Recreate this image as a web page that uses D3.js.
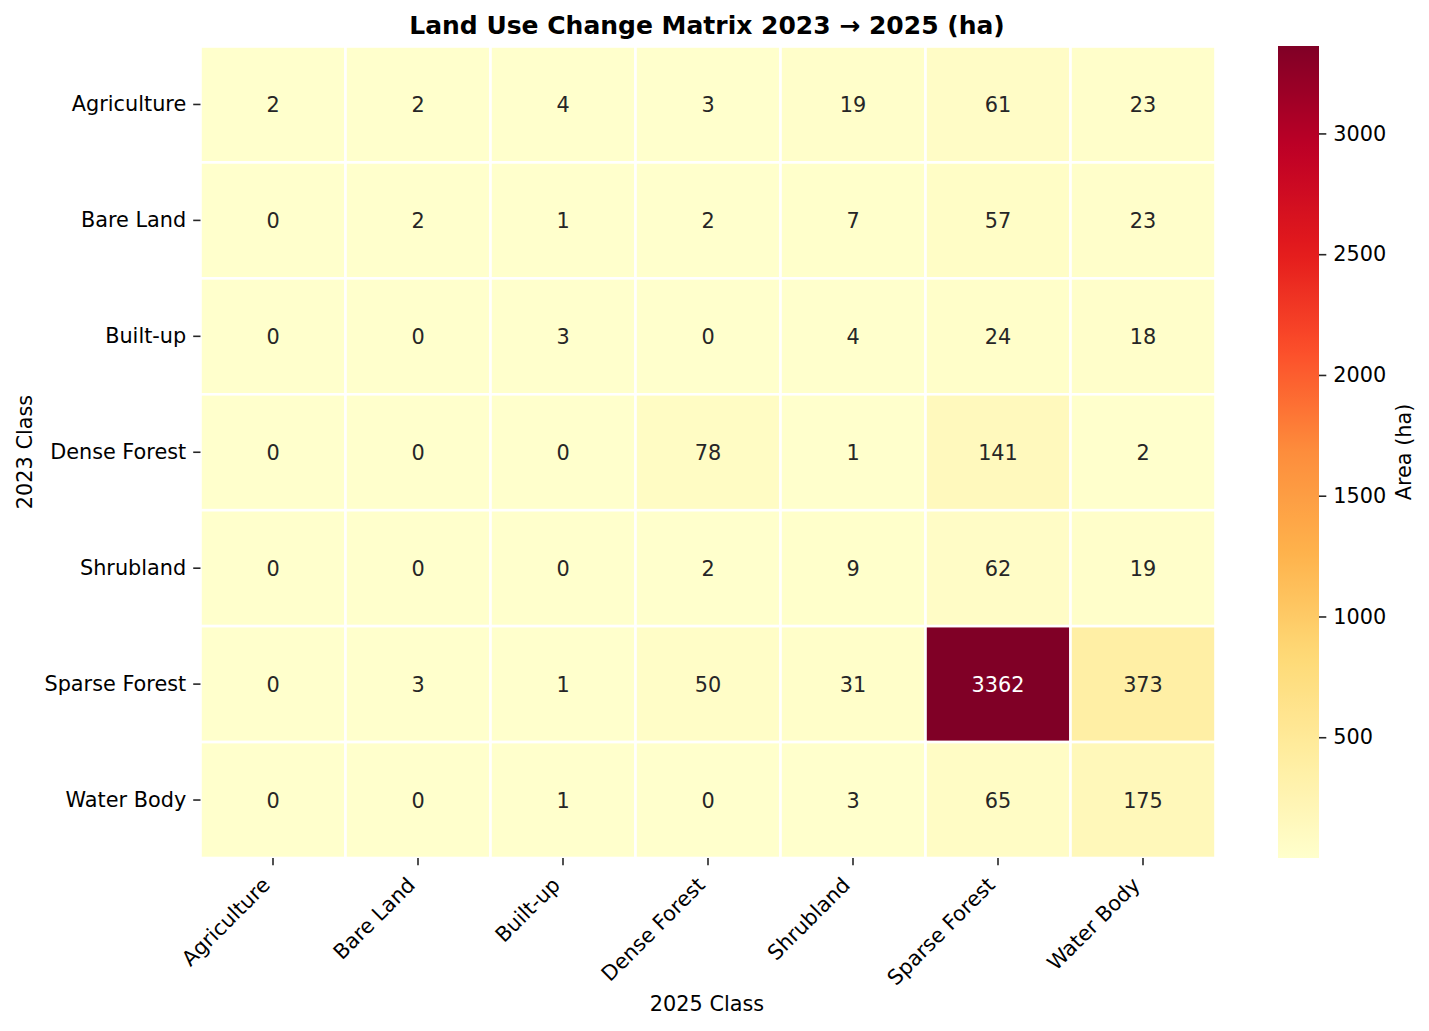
<!DOCTYPE html>
<html>
<head>
<meta charset="utf-8">
<script src="https://cdn.jsdelivr.net/npm/d3@7"></script>
<style>
  body { margin: 0; background: #fff; }
  text { font-family: "DejaVu Sans", sans-serif; }
</style>
</head>
<body>
<div id="chart"></div>
<script>
// classes, same order on both axes
const classes2023 = ['Agriculture', 'Bare Land', 'Built-up', 'Dense Forest', 'Shrubland', 'Sparse Forest', 'Water Body'];
const classes2025 = ['Agriculture', 'Bare Land', 'Built-up', 'Dense Forest', 'Shrubland', 'Sparse Forest', 'Water Body'];

// area in ha, one row per 2023 class
const agricultureRow = [2, 2, 4, 3, 19, 61, 23];
const bareLandRow = [0, 2, 1, 2, 7, 57, 23];
const builtUpRow = [0, 0, 3, 0, 4, 24, 18];
const denseForestRow = [0, 0, 0, 78, 1, 141, 2];
const shrublandRow = [0, 0, 0, 2, 9, 62, 19];
const sparseForestRow = [0, 3, 1, 50, 31, 3362, 373];
const waterBodyRow = [0, 0, 1, 0, 3, 65, 175];
const rows = [agricultureRow, bareLandRow, builtUpRow, denseForestRow, shrublandRow, sparseForestRow, waterBodyRow];

const colorbarTicks = [500, 1000, 1500, 2000, 2500, 3000];

const width = 1429;
const height = 1031;
const fs = 20.8;

const svg = d3.select('#chart').append('svg')
    .attr('width', width).attr('height', height);

const cells = [];
rows.forEach((r, i) => r.forEach((v, j) => cells.push({row: classes2023[i], col: classes2025[j], value: v})));

const x = d3.scaleBand().domain(classes2025).range([200.5, 1215.5]);
const y = d3.scaleBand().domain(classes2023).range([46.5, 858]);

const vmin = d3.min(cells, d => d.value);
const vmax = d3.max(cells, d => d.value);

// matplotlib YlOrRd (linear between the brewer nodes)
const ylorrd = ['#ffffcc', '#ffeda0', '#fed976', '#feb24c', '#fd8d3c', '#fc4e2a', '#e31a1c', '#bd0026', '#800026'];
const color = d3.scaleLinear()
    .domain(ylorrd.map((c, i) => vmin + (vmax - vmin) * i / (ylorrd.length - 1)))
    .range(ylorrd)
    .interpolate(d3.interpolateRgb)
    .clamp(true);

svg.append('g').selectAll('rect')
    .data(cells)
    .enter()
    .append('rect')
    .attr('x', d => x(d.col))
    .attr('y', d => y(d.row))
    .attr('width', x.bandwidth())
    .attr('height', y.bandwidth())
    .attr('fill', d => color(d.value))
    .attr('stroke', '#fff')
    .attr('stroke-width', 2.6);

function lum(c) {
    const rgb = d3.rgb(c);
    const f = v => { v /= 255; return v <= 0.03928 ? v / 12.92 : Math.pow((v + 0.055) / 1.055, 2.4); };
    return 0.2126 * f(rgb.r) + 0.7152 * f(rgb.g) + 0.0722 * f(rgb.b);
}

svg.append('g').selectAll('text')
    .data(cells)
    .enter()
    .append('text')
    .attr('x', d => x(d.col) + x.bandwidth() / 2)
    .attr('y', d => y(d.row) + y.bandwidth() / 2)
    .attr('text-anchor', 'middle')
    .attr('dy', '0.36em')
    .attr('font-size', fs)
    .attr('fill', d => lum(color(d.value)) > 0.408 ? '#262626' : '#ffffff')
    .text(d => d3.format('.0f')(d.value));

// y axis
const yAxis = svg.append('g')
    .attr('transform', 'translate(200.5,0)')
    .call(d3.axisLeft(y).tickSize(7.3).tickPadding(7));
yAxis.select('.domain').remove();
yAxis.selectAll('.tick line').attr('stroke', '#262626').attr('stroke-width', 1.6);
yAxis.selectAll('.tick text').attr('font-size', fs).attr('fill', '#000').attr('font-family', 'DejaVu Sans');

// x axis
const xAxis = svg.append('g')
    .attr('transform', 'translate(0,858)')
    .call(d3.axisBottom(x).tickSize(7.3).tickPadding(7));
xAxis.select('.domain').remove();
xAxis.selectAll('.tick line').attr('stroke', '#262626').attr('stroke-width', 1.6);
xAxis.selectAll('.tick text')
    .attr('font-size', fs).attr('fill', '#000').attr('font-family', 'DejaVu Sans')
    .attr('text-anchor', 'end')
    .attr('dy', '0.7em')
    .attr('transform', 'translate(-12,18) rotate(-45)')
    .attr('y', 0).attr('x', 0);

// colorbar
const cbX = 1278, cbW = 41;
const cbScale = d3.scaleLinear().domain([vmin, vmax]).range([858, 46]);
const defs = svg.append('defs');
const grad = defs.append('linearGradient').attr('id', 'cbgrad')
    .attr('x1', 0).attr('y1', 1).attr('x2', 0).attr('y2', 0);
d3.range(0, 1.0001, 0.02).forEach(t => {
    grad.append('stop').attr('offset', t).attr('stop-color', color(vmin + t * (vmax - vmin)));
});
svg.append('rect')
    .attr('x', cbX).attr('y', cbScale(vmax))
    .attr('width', cbW).attr('height', cbScale(vmin) - cbScale(vmax))
    .attr('fill', 'url(#cbgrad)');
const cbAxis = svg.append('g')
    .attr('transform', `translate(${cbX + cbW},0)`)
    .call(d3.axisRight(cbScale).tickValues(colorbarTicks).tickFormat(d3.format('d')).tickSize(7.3).tickPadding(7));
cbAxis.select('.domain').remove();
cbAxis.selectAll('.tick line').attr('stroke', '#262626').attr('stroke-width', 1.6);
cbAxis.selectAll('.tick text').attr('font-size', fs).attr('fill', '#000').attr('font-family', 'DejaVu Sans');

// labels
svg.append('text')
    .attr('x', 707).attr('y', 25)
    .attr('text-anchor', 'middle').attr('dy', '0.36em')
    .attr('font-size', 25).attr('font-weight', 'bold')
    .text('Land Use Change Matrix 2023 \u2192 2025 (ha)');

svg.append('text')
    .attr('x', 707).attr('y', 1004)
    .attr('text-anchor', 'middle').attr('dy', '0.36em')
    .attr('font-size', fs)
    .text('2025 Class');

svg.append('text')
    .attr('transform', 'translate(24,452) rotate(-90)')
    .attr('text-anchor', 'middle').attr('dy', '0.36em')
    .attr('font-size', fs)
    .text('2023 Class');

svg.append('text')
    .attr('transform', 'translate(1403,452) rotate(-90)')
    .attr('text-anchor', 'middle').attr('dy', '0.36em')
    .attr('font-size', fs)
    .text('Area (ha)');
</script>
</body>
</html>
